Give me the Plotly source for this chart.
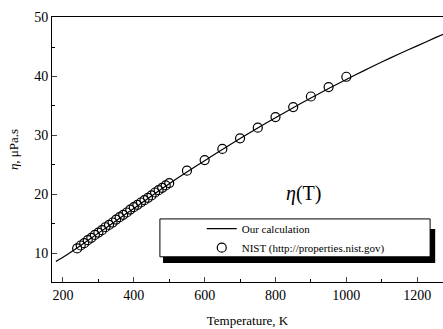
import plotly.graph_objects as go

# Our calculation (line)
T_calc = [180, 200, 250, 300, 350, 400, 450, 500, 550, 600, 650, 700, 750, 800,
          850, 900, 950, 1000, 1050, 1100, 1150, 1200, 1250, 1280]
eta_calc = [8.6, 9.3, 11.3, 13.4, 15.5, 17.6, 19.7, 21.8, 23.8, 25.7, 27.6, 29.45, 31.25, 33.0,
            34.7, 36.35, 37.95, 39.5, 41.0, 42.45, 43.85, 45.2, 46.55, 47.35]

# NIST data (circles)
T_nist = [240, 250, 260, 270, 280, 290, 300, 310, 320, 330, 340, 350, 360, 370, 380, 390,
          400, 410, 420, 430, 440, 450, 460, 470, 480, 490, 500,
          550, 600, 650, 700, 750, 800, 850, 900, 950, 1000]
eta_nist = [10.8, 11.3, 11.7, 12.2, 12.6, 13.1, 13.5, 13.9, 14.4, 14.8, 15.2, 15.7, 16.1, 16.5,
            16.9, 17.4, 17.8, 18.2, 18.6, 19.0, 19.4, 19.8, 20.3, 20.7, 21.1, 21.5, 21.9,
            24.0, 25.8, 27.7, 29.5, 31.3, 33.1, 34.8, 36.6, 38.2, 39.95]

x_ticks = [200, 400, 600, 800, 1000, 1200]
y_ticks = [10, 20, 30, 40, 50]

FONT = "Liberation Serif"

fig = go.Figure()
fig.add_trace(go.Scatter(x=T_calc, y=eta_calc, mode="lines", name="Our calculation",
                         line=dict(color="black", width=1.2, shape="spline", smoothing=0.6)))
fig.add_trace(go.Scatter(x=T_nist, y=eta_nist, mode="markers",
                         name="NIST (http://properties.nist.gov)",
                         marker=dict(symbol="circle-open", size=9, color="black",
                                     line=dict(width=1.2, color="black"))))

fig.update_layout(
    width=443, height=329,
    margin=dict(l=52, r=0, t=17, b=47, autoexpand=False),
    paper_bgcolor="white", plot_bgcolor="white",
    font=dict(family=FONT, color="black", size=14),
    showlegend=True,
    legend=dict(x=0.383, y=0.256, xanchor="left", yanchor="top",
                bgcolor="rgba(0,0,0,0)", borderwidth=0,
                font=dict(family=FONT, size=11), tracegroupgap=0,
                itemwidth=30),
    shapes=[
        dict(type="rect", xref="paper", yref="paper", x0=0.284, x1=0.98, y0=0.072, y1=0.2,
             fillcolor="black", line=dict(width=0), layer="above"),
        dict(type="rect", xref="paper", yref="paper", x0=0.276, x1=0.967, y0=0.095, y1=0.238,
             fillcolor="white", line=dict(width=1, color="black"), layer="above"),
    ],
    annotations=[
        dict(x=0.642, y=0.335, xref="paper", yref="paper", showarrow=False,
             text="<i>η</i>(T)", font=dict(family=FONT, size=20, color="black")),
    ],
)
fig.update_xaxes(range=[169, 1273], tickvals=x_ticks, ticks="inside", ticklen=5,
                 minor=dict(dtick=100, ticks="inside", ticklen=3, tickcolor="black"),
                 showline=True, linecolor="black", linewidth=1, mirror=True,
                 showgrid=False, zeroline=False, automargin=False,
                 title=dict(text="Temperature, K", font=dict(size=13), standoff=14),
                 tickfont=dict(size=14))
fig.update_yaxes(range=[5.1, 50.1], tickvals=y_ticks, ticks="inside", ticklen=5,
                 minor=dict(dtick=5, ticks="inside", ticklen=3, tickcolor="black"),
                 showline=True, linecolor="black", linewidth=1,
                 showgrid=False, zeroline=False, automargin=False,
                 title=dict(text="<i>η</i>, μPa.s", font=dict(size=13), standoff=12),
                 tickfont=dict(size=14))

fig.write_html("out.html", config={"displayModeBar": False},
               post_script="document.body.style.margin='0';document.body.style.overflow='hidden';")
